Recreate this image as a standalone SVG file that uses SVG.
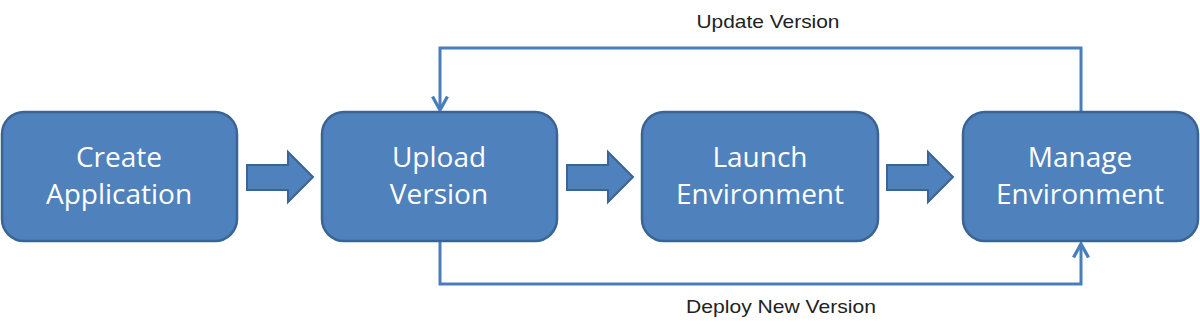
<svg xmlns="http://www.w3.org/2000/svg" width="1200" height="326" viewBox="0 0 1200 326">
<defs>
<style>
.box{fill:#4F81BD;stroke:#3A6494;stroke-width:2.5}
.bt{fill:#ffffff;font-family:"Open Sans","Noto Sans",sans-serif;font-size:28px;text-anchor:middle}
.blk{fill:#4F81BD;stroke:#3A6494;stroke-width:2}
.con{fill:none;stroke:#4A7EBB;stroke-width:3}
.lbl{fill:#222222;font-family:"Liberation Sans",Arial,sans-serif;font-size:19px;text-anchor:middle}
</style>
<marker id="ah" viewBox="0 0 12 12" refX="10" refY="6" markerWidth="6" markerHeight="6" orient="auto" markerUnits="strokeWidth">
<path d="M1,1 L10,6 L1,11" fill="none" stroke="#4A7EBB" stroke-width="2.2"/>
</marker>
</defs>
<rect width="1200" height="326" fill="#ffffff"/>
<g id="connectors">
<path class="con" d="M1081,112 V48 H440 V110" marker-end="url(#ah)"/>
<path class="con" d="M440,241 V284 H1081 V244" marker-end="url(#ah)"/>
<path class="blk" d="M247,165 H288 V152 L313,177 L288,202 V190 H247 Z"/>
<path class="blk" d="M567,165 H608 V152 L633,177 L608,202 V190 H567 Z"/>
<path class="blk" d="M887,165 H928 V152 L953,177 L928,202 V190 H887 Z"/>
<text class="lbl" x="768" y="28" textLength="143" lengthAdjust="spacingAndGlyphs">Update Version</text>
<text class="lbl" x="781" y="313" textLength="190" lengthAdjust="spacingAndGlyphs">Deploy New Version</text>
</g>
<g id="create">
<rect class="box" x="2" y="112" width="235" height="129" rx="22"/>
<text class="bt" x="119" y="167">Create</text>
<text class="bt" x="119" y="204">Application</text>
</g>
<g id="upload">
<rect class="box" x="322" y="112" width="235" height="129" rx="22"/>
<text class="bt" x="439" y="167">Upload</text>
<text class="bt" x="439" y="204">Version</text>
</g>
<g id="launch">
<rect class="box" x="642" y="112" width="236" height="129" rx="22"/>
<text class="bt" x="760" y="167">Launch</text>
<text class="bt" x="760" y="204">Environment</text>
</g>
<g id="manage">
<rect class="box" x="963" y="112" width="235" height="129" rx="22"/>
<text class="bt" x="1080" y="167">Manage</text>
<text class="bt" x="1080" y="204">Environment</text>
</g>
</svg>
